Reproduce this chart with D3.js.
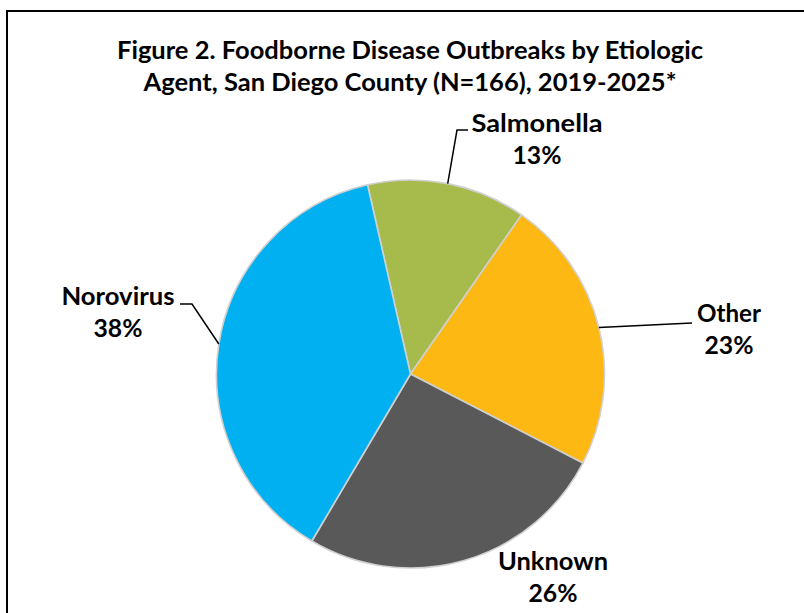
<!DOCTYPE html>
<html><head><meta charset="utf-8">
<script src="https://cdn.jsdelivr.net/npm/d3@7"></script>
<style>
html,body{margin:0;padding:0;background:#fff;}
svg{display:block;}
text{font-family:Lato,"Open Sans","Liberation Sans",sans-serif;font-weight:bold;fill:#000;}
</style></head>
<body>
<svg id="chart" width="804" height="613"></svg>
<script>
// ---- data ----
const categories = ["Salmonella", "Other", "Unknown", "Norovirus"];
const counts = [22, 38, 43, 63];
const percentLabels = ["13%", "23%", "26%", "38%"];
const colors = ["#A6BB4B", "#FDB813", "#595959", "#00B0F0"];
const titleLines = ["Figure 2. Foodborne Disease Outbreaks by Etiologic",
                    "Agent, San Diego County (N=166), 2019-2025*"];

// ---- layout ----
const W = 804, H = 613;
const cx = 410.5, cy = 374, R = 194;
const startDeg = -12.8;
// label anchors: text center x, first baseline y, elbow point, label width
const labelLayout = [
  {x: 537, y: 132, w: 131, elbow: [[457, 130], [468, 130]]},
  {x: 729, y: 322, w: 64,  elbow: [[692, 323]]},
  {x: 553, y: 570, w: 110, elbow: null},
  {x: 118, y: 305, w: 113, elbow: [[192, 304], [180, 304]]}
];

const svg = d3.select("#chart");

// border (right/bottom run off the picture)
svg.append("path")
  .attr("d", `M7,${H+5} L7,11 L${W+5},11`)
  .attr("fill", "none").attr("stroke", "#000").attr("stroke-width", 2);

// title
const tl = [{y: 59, w: 586}, {y: 91, w: 533}];
titleLines.forEach((t, i) => {
  svg.append("text").attr("x", 410).attr("y", tl[i].y)
    .attr("text-anchor", "middle").attr("font-size", 25)
    .attr("textLength", tl[i].w).attr("lengthAdjust", "spacingAndGlyphs")
    .text(t);
});

const data = categories.map((c, i) => ({cat: c, n: counts[i], pct: percentLabels[i], color: colors[i], lay: labelLayout[i]}));

const pie = d3.pie().sort(null).value(d => d.n)
  .startAngle(startDeg * Math.PI / 180)
  .endAngle((startDeg + 360) * Math.PI / 180);
const arcs = pie(data);
const arc = d3.arc().innerRadius(0).outerRadius(R);

const g = svg.append("g").attr("transform", `translate(${cx},${cy})`);
g.selectAll("path.slice").data(arcs).join("path")
  .attr("class", "slice")
  .attr("d", arc)
  .attr("fill", d => d.data.color)
  .attr("stroke", "#D0D0D0").attr("stroke-width", 1.6);

// leader lines
arcs.forEach(a => {
  const lay = a.data.lay;
  if (!lay.elbow) return;
  const mid = (a.startAngle + a.endAngle) / 2;
  const px = cx + R * Math.sin(mid), py = cy - R * Math.cos(mid);
  const pts = [[px, py]].concat(lay.elbow);
  svg.append("path")
    .attr("d", d3.line()(pts))
    .attr("fill", "none").attr("stroke", "#000").attr("stroke-width", 1.5);
});

// labels
arcs.forEach(a => {
  const lay = a.data.lay;
  const t = svg.append("text").attr("text-anchor", "middle").attr("font-size", 24);
  t.append("tspan").attr("x", lay.x).attr("y", lay.y)
    .attr("textLength", lay.w).attr("lengthAdjust", "spacingAndGlyphs")
    .text(a.data.cat);
  t.append("tspan").attr("x", lay.x).attr("y", lay.y + 32)
    .attr("textLength", 49).attr("lengthAdjust", "spacingAndGlyphs")
    .text(a.data.pct);
});
</script>
</body></html>
